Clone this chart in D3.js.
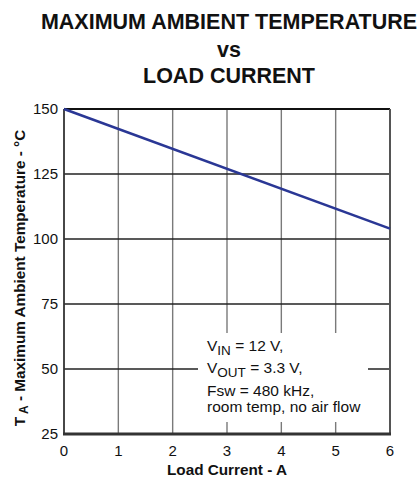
<!DOCTYPE html>
<html>
<head>
<meta charset="utf-8">
<script src="https://cdn.jsdelivr.net/npm/d3@7"></script>
<style>
  html, body { margin: 0; padding: 0; background: #fff; }
  svg { display: block; font-family: "Liberation Sans", Arial, Helvetica, sans-serif; }
</style>
</head>
<body>
<svg id="chart" width="420" height="481"></svg>
<script>
// Derating curve: maximum ambient temperature vs load current
const loadCurrent = [0, 6];          // A
const maxAmbientTemp = [150, 104];   // °C

const xTicks = [0, 1, 2, 3, 4, 5, 6];
const yTicks = [25, 50, 75, 100, 125, 150];

const titleLines = ["MAXIMUM AMBIENT TEMPERATURE", "vs", "LOAD CURRENT"];
const xTitle = "Load Current - A";
const conditions = [
  { main: "V", sub: "IN", rest: " = 12 V," },
  { main: "V", sub: "OUT", rest: " = 3.3 V," },
  { main: "Fsw = 480 kHz,", sub: "", rest: "" },
  { main: "room temp, no air flow", sub: "", rest: "" }
];

const svg = d3.select("#chart");
const plot = { left: 64, top: 109, right: 390, bottom: 434 };

const x = d3.scaleLinear().domain([0, 6]).range([plot.left, plot.right]);
const y = d3.scaleLinear().domain([25, 150]).range([plot.bottom, plot.top]);

// Title
const titleBaselines = [29, 57, 83];
svg.append("g").selectAll("text").data(titleLines).join("text")
  .attr("x", 229).attr("y", (d, i) => titleBaselines[i])
  .attr("text-anchor", "middle")
  .attr("font-size", 21.5).attr("font-weight", "bold").attr("fill", "#111")
  .text(d => d);

// Grid
const grid = svg.append("g");
grid.selectAll("line.v").data(xTicks.slice(1, -1)).join("line")
  .attr("class", "v")
  .attr("x1", d => x(d)).attr("x2", d => x(d))
  .attr("y1", plot.top).attr("y2", plot.bottom)
  .attr("stroke", "#7a7a7a").attr("stroke-width", 1.4);
grid.selectAll("line.h").data(yTicks.slice(1, -1)).join("line")
  .attr("class", "h")
  .attr("x1", plot.left).attr("x2", plot.right)
  .attr("y1", d => y(d)).attr("y2", d => y(d))
  .attr("stroke", "#222").attr("stroke-width", 1.6);

// Frame
svg.append("line").attr("x1", plot.left).attr("x2", plot.right)
  .attr("y1", plot.top).attr("y2", plot.top)
  .attr("stroke", "#111").attr("stroke-width", 2.2);
svg.append("line").attr("x1", plot.right).attr("x2", plot.right)
  .attr("y1", plot.top).attr("y2", plot.bottom)
  .attr("stroke", "#555").attr("stroke-width", 2);
svg.append("line").attr("x1", plot.left).attr("x2", plot.left)
  .attr("y1", plot.top).attr("y2", plot.bottom)
  .attr("stroke", "#333").attr("stroke-width", 1.8);
svg.append("line").attr("x1", plot.left - 1).attr("x2", plot.right + 1)
  .attr("y1", plot.bottom).attr("y2", plot.bottom)
  .attr("stroke", "#333").attr("stroke-width", 3);

// Data line
const pts = loadCurrent.map((c, i) => [c, maxAmbientTemp[i]]);
svg.append("path")
  .attr("d", d3.line().x(d => x(d[0])).y(d => y(d[1]))(pts))
  .attr("fill", "none").attr("stroke", "#2a3795").attr("stroke-width", 2.6);

// Conditions box
svg.append("rect")
  .attr("x", 198).attr("y", 333).attr("width", 170).attr("height", 89)
  .attr("fill", "#fff");
const condBaselines = [351, 373, 396, 412];
const cond = svg.append("g").attr("font-size", 15.5).attr("fill", "#111");
conditions.forEach((c, i) => {
  const t = cond.append("text").attr("x", 207).attr("y", condBaselines[i]);
  t.append("tspan").text(c.main);
  if (c.sub) {
    t.append("tspan").attr("font-size", 13.5).attr("dy", 4).text(c.sub);
    t.append("tspan").attr("dy", -4).text(c.rest);
  }
});

// Axis tick labels
svg.append("g").selectAll("text").data(yTicks).join("text")
  .attr("x", 58).attr("y", d => y(d)).attr("dy", "0.36em")
  .attr("text-anchor", "end").attr("font-size", 15).attr("fill", "#111")
  .text(d => d);
svg.append("g").selectAll("text").data(xTicks).join("text")
  .attr("x", d => x(d)).attr("y", 456)
  .attr("text-anchor", "middle").attr("font-size", 15).attr("fill", "#111")
  .text(d => d);

// Axis titles
svg.append("text").attr("x", 227).attr("y", 475)
  .attr("text-anchor", "middle").attr("font-size", 15.3).attr("font-weight", "bold")
  .attr("fill", "#111").text(xTitle);

const yt = svg.append("text")
  .attr("transform", "translate(25,278) rotate(-90)")
  .attr("text-anchor", "middle").attr("font-size", 15.3).attr("font-weight", "bold")
  .attr("fill", "#111");
yt.append("tspan").text("T");
yt.append("tspan").attr("font-size", 12).attr("dy", 3).text(" A");
yt.append("tspan").attr("dy", -3).text(" - Maximum Ambient Temperature - °C");
</script>
</body>
</html>
